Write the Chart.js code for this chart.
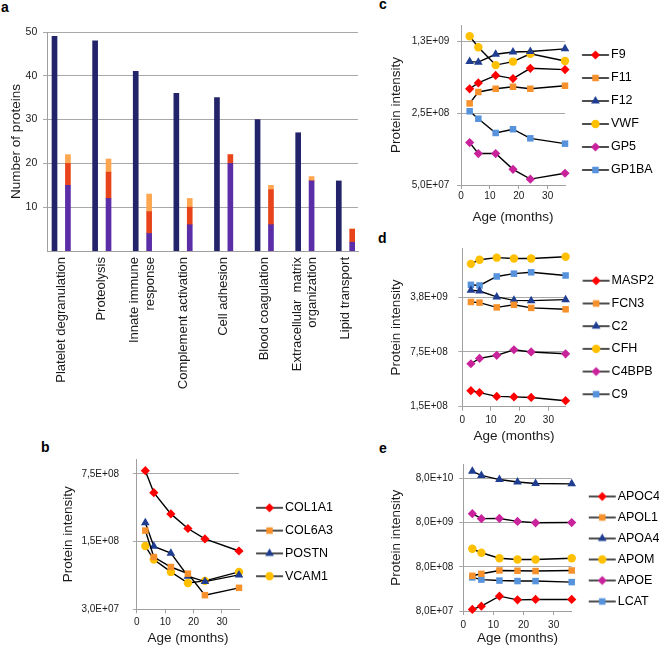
<!DOCTYPE html>
<html>
<head>
<meta charset="utf-8">
<script src="https://cdn.jsdelivr.net/npm/chart.js@4/dist/chart.umd.min.js"></script>
<style>
  html, body { margin:0; padding:0; background:#ffffff; }
  body { position:relative; width:659px; height:648px; overflow:hidden; font-family:'Liberation Sans', Arial, sans-serif; }
  canvas { position:absolute; }
  .panel-letter { position:absolute; font-weight:bold; font-size:14px; line-height:14px; color:#000; }
</style>
</head>
<body>
<div class="panel-letter" style="left:1px;top:0px">a</div>
<div class="panel-letter" style="left:41px;top:440px">b</div>
<div class="panel-letter" style="left:379px;top:-3px">c</div>
<div class="panel-letter" style="left:378px;top:231px">d</div>
<div class="panel-letter" style="left:379px;top:441px">e</div>
<canvas id="chartA"></canvas>
<canvas id="chartB"></canvas>
<canvas id="chartC"></canvas>
<canvas id="chartD"></canvas>
<canvas id="chartE"></canvas>
<script>
// ================= DATA =================
// Panel a
const categories = ['Platelet degranulation', 'Proteolysis', ['Innate immune', 'response'],
  'Complement activation', 'Cell adhesion', 'Blood coagulation',
  ['Extracellular  matrix', 'organization'], 'Lipid transport'];
const totalProteins  = [49, 48, 41, 36, 35, 30, 27, 16];
const purpleProteins = [15, 12, 4, 6, 20, 6, 16, 2];
const redProteins    = [5, 6, 5, 4, 2, 8, 0, 3];
const orangeProteins = [2, 3, 4, 2, 0, 1, 1, 0];
const countTicks = [10, 20, 30, 40, 50];

// Shared x values (months)
const ages = [3, 6, 12, 18, 24, 36];
const ageTicks = [0, 10, 20, 30];

// Panel b
const bLabels = ['COL1A1', 'COL6A3', 'POSTN', 'VCAM1'];
const COL1A1 = [8.1e8, 4.8e8, 2.9e8, 2.05e8, 1.6e8, 1.2e8];
const COL6A3 = [1.95e8, 1.04e8, 8.2e7, 7.0e7, 4.2e7, 5.0e7];
const POSTN  = [2.35e8, 1.34e8, 1.14e8, 6.6e7, 5.8e7, 6.8e7];
const VCAM1  = [1.35e8, 9.8e7, 7.3e7, 5.6e7, 5.9e7, 7.3e7];
const bTicks = [3e7, 1.5e8, 7.5e8];

// Panel c
const cLabels = ['F9', 'F11', 'F12', 'VWF', 'GP5', 'GP1BA'];
const F9    = [4.3e8, 4.9e8, 5.8e8, 5.4e8, 6.8e8, 6.6e8];
const F11   = [3.1e8, 4.0e8, 4.3e8, 4.5e8, 4.3e8, 4.6e8];
const F12   = [7.9e8, 7.8e8, 9.3e8, 9.8e8, 9.9e8, 1.05e9];
const VWF   = [1.39e9, 1.09e9, 7.3e8, 7.9e8, 9.4e8, 8.0e8];
const GP5   = [1.29e8, 1.01e8, 1.01e8, 7.1e7, 5.7e7, 6.5e7];
const GP1BA = [2.6e8, 2.2e8, 1.6e8, 1.74e8, 1.42e8, 1.26e8];
const cTicks = [5e7, 2.5e8, 1.25e9];

// Panel d
const dLabels = ['MASP2', 'FCN3', 'C2', 'CFH', 'C4BPB', 'C9'];
const MASP2 = [2.4e8, 2.27e8, 2.03e8, 2.0e8, 1.97e8, 1.79e8];
const FCN3  = [3.26e9, 3.2e9, 2.78e9, 3.0e9, 2.74e9, 2.63e9];
const C2    = [4.6e9, 4.5e9, 3.78e9, 3.42e9, 3.39e9, 3.49e9];
const CFH   = [1.0e10, 1.13e10, 1.2e10, 1.17e10, 1.17e10, 1.23e10];
const C4BPB = [5.3e8, 6.2e8, 6.8e8, 8.0e8, 7.5e8, 7.1e8];
const C9    = [5.4e9, 5.3e9, 6.9e9, 7.5e9, 7.8e9, 7.1e9];
const dTicks = [1.5e8, 7.5e8, 3.75e9];

// Panel e
const eLabels = ['APOC4', 'APOL1', 'APOA4', 'APOM', 'APOE', 'LCAT'];
const APOC4 = [8.7e7, 1.03e8, 1.73e8, 1.43e8, 1.46e8, 1.46e8];
const APOL1 = [5.0e8, 5.55e8, 6.6e8, 6.5e8, 6.4e8, 6.6e8];
const APOA4 = [1.15e11, 9.3e10, 7.5e10, 6.6e10, 6.1e10, 6.0e10];
const APOM  = [2.04e9, 1.66e9, 1.25e9, 1.17e9, 1.17e9, 1.25e9];
const APOE  = [1.27e10, 9.8e9, 9.9e9, 8.5e9, 7.9e9, 8.0e9];
const LCAT  = [4.6e8, 4.1e8, 3.9e8, 3.8e8, 3.8e8, 3.6e8];
const eTicks = [8e7, 8e8, 8e9, 8e10];

// ================= STYLE =================
const FONT = "'Liberation Sans', Arial, sans-serif";
Chart.defaults.font.family = FONT;
Chart.defaults.color = '#1a1a1a';
const TXT = '#1a1a1a';
const GRID = '#a8a8a8';
const AXIS = '#a0a0a0';

const MARKERS = {
  red:     { color: '#ff0000', shape: 'rectRot',  r: 4.6 },
  orange:  { color: '#f7912c', shape: 'rect',     r: 4.6 },
  navy:    { color: '#1f3e92', shape: 'triangle', r: 5.0 },
  gold:    { color: '#ffc000', shape: 'circle',   r: 4.2 },
  magenta: { color: '#c9239c', shape: 'rectRot',  r: 4.6 },
  sky:     { color: '#5693dc', shape: 'rect',     r: 4.6 }
};

function drawMarker(g, m, cx, cy) {
  const r = m.r;
  g.fillStyle = m.color;
  g.beginPath();
  if (m.shape === 'circle') {
    g.arc(cx, cy, r, 0, Math.PI * 2);
  } else if (m.shape === 'rectRot') {
    g.moveTo(cx, cy - r); g.lineTo(cx + r, cy); g.lineTo(cx, cy + r); g.lineTo(cx - r, cy); g.closePath();
  } else if (m.shape === 'rect') {
    const s = r * Math.SQRT1_2; g.rect(cx - s, cy - s, 2 * s, 2 * s);
  } else {
    for (let k = 0; k < 3; k++) {
      const ang = k * 2 * Math.PI / 3;
      const px = cx + Math.sin(ang) * r, py = cy - Math.cos(ang) * r;
      if (k) g.lineTo(px, py); else g.moveTo(px, py);
    }
    g.closePath();
  }
  g.fill();
}

function sci(v) {
  const e = Math.floor(Math.log10(v) + 1e-9);
  const m = v / Math.pow(10, e);
  return m.toFixed(1).replace('.', ',') + 'E+' + String(e).padStart(2, '0');
}

// legend sample: line + marker, positions relative to plot right edge
const LEG_LINE_START = 17, LEG_LINE_END = 44, LEG_TEXT = 46, LEG_FONT = 12.5;
function legendImage(m, pad, boxW) {
  const c = pad + boxW / 2;
  const W = Math.ceil(2 * Math.max(LEG_LINE_END - c, c - LEG_LINE_START)) + 4;
  const H = 14;
  const cv = document.createElement('canvas');
  cv.width = W; cv.height = H;
  const g = cv.getContext('2d');
  const ox = c - W / 2;
  g.strokeStyle = '#000'; g.lineWidth = 1.4;
  g.beginPath(); g.moveTo(LEG_LINE_START - ox, H / 2); g.lineTo(LEG_LINE_END - ox, H / 2); g.stroke();
  drawMarker(g, m, (LEG_LINE_START + LEG_LINE_END) / 2 - ox, H / 2);
  return cv;
}

function placeCanvas(cv, left, top, w, h) {
  cv.width = w; cv.height = h;
  cv.style.left = left + 'px'; cv.style.top = top + 'px';
  cv.style.width = w + 'px'; cv.style.height = h + 'px';
}

// ================= PANEL A (bars) =================
(function () {
  const cv = document.getElementById('chartA');
  placeCanvas(cv, 0, 20, 370, 400);
  const SUB_OFFSET = 0.165;       // total bar vs breakdown bar, in category units
  const LINE_SHIFT = 0.192;       // half a text line for two-line labels
  const pts = (arr, off) => arr.map((v, i) => ({ x: i + off, y: v }));
  new Chart(cv, {
    type: 'bar',
    data: {
      datasets: [
        { label: 'All', data: pts(totalProteins, -SUB_OFFSET), backgroundColor: '#23236b', stack: 'all' },
        { label: 'Subset 1', data: pts(purpleProteins, SUB_OFFSET), backgroundColor: '#5b2da6', stack: 'sub' },
        { label: 'Subset 2', data: pts(redProteins, SUB_OFFSET), backgroundColor: '#e8441b', stack: 'sub' },
        { label: 'Subset 3', data: pts(orangeProteins, SUB_OFFSET), backgroundColor: '#ffa650', stack: 'sub' }
      ]
    },
    options: {
      responsive: false, animation: false, devicePixelRatio: 1, events: [],
      datasets: { bar: { grouped: false, barThickness: 5, borderWidth: 0 } },
      layout: { padding: { left: 0, top: 9, right: 12, bottom: 0 } },
      plugins: { legend: { display: false }, tooltip: { enabled: false } },
      scales: {
        x: {
          type: 'linear', min: -0.35, max: 7.308, offset: false,
          afterBuildTicks: s => { s.ticks = categories.map((c, i) => ({ value: Array.isArray(c) ? i - LINE_SHIFT : i })); },
          afterFit: s => { s.height = 169; },
          grid: { display: false, drawTicks: false, offset: false },
          border: { display: true, color: AXIS, width: 1 },
          ticks: { autoSkip: false, minRotation: 90, maxRotation: 90, padding: 6, font: { size: 13 }, color: TXT,
                   callback: v => categories[Math.round(v)] }
        },
        y: {
          stacked: true, min: 0, max: 50,
          afterBuildTicks: s => { s.ticks = countTicks.map(v => ({ value: v })); },
          afterFit: s => { s.width = 47; },
          grid: { color: GRID, tickLength: 4 },
          border: { display: true, color: AXIS, width: 1 },
          ticks: { font: { size: 10.5 }, color: TXT, padding: 5.7 },
          title: { display: true, text: 'Number of proteins', color: TXT, font: { size: 13.5 }, padding: { top: 8.4, bottom: 0 } }
        }
      }
    }
  });
})();

// ================= LINE PANELS =================
function linePanel(id, geo, labels, values, styles, yTicks, yMin, yMax) {
  const cv = document.getElementById(id);
  const a = geo.area;
  const W = Math.round(a.r + geo.legW - geo.left), H = geo.bottom - geo.top;
  placeCanvas(cv, geo.left, geo.top, W, H);
  const legW = W - (a.r - geo.left);
  const boxW = LEG_TEXT - geo.legPad - LEG_FONT / 2;
  const imgs = styles.map(s => legendImage(MARKERS[s], geo.legPad, boxW));
  return new Chart(cv, {
    type: 'line',
    data: {
      datasets: labels.map((lab, i) => {
        const m = MARKERS[styles[i]];
        return {
          label: lab,
          data: ages.map((x, j) => ({ x: x, y: values[i][j] })),
          borderColor: '#000', borderWidth: 1.4, fill: false, tension: 0, clip: false,
          pointStyle: m.shape, pointRadius: m.r, pointHoverRadius: m.r,
          pointBackgroundColor: m.color, pointBorderColor: m.color, pointBorderWidth: 0
        };
      })
    },
    options: {
      responsive: false, animation: false, devicePixelRatio: 1, events: [],
      layout: { padding: { left: 0, top: 0, bottom: 0, right: 0 } },
      plugins: {
        tooltip: { enabled: false },
        title: { display: true, text: '', fullSize: false, padding: { top: a.t - geo.top, bottom: 0 },
                 font: { size: 10, lineHeight: '0px' } },
        legend: {
          display: true, position: 'right', align: 'center', fullSize: true, maxWidth: legW,
          labels: {
            usePointStyle: true, pointStyleWidth: boxW, padding: geo.legPad, color: TXT, font: { size: LEG_FONT },
            generateLabels: chart => chart.data.datasets.map((ds, i) => ({
              text: ds.label, pointStyle: imgs[i], fillStyle: '#000', strokeStyle: '#000',
              lineWidth: 0, hidden: false, datasetIndex: i
            }))
          }
        }
      },
      scales: {
        x: {
          type: 'linear', min: 0, max: 36,
          afterBuildTicks: s => { s.ticks = ageTicks.map(v => ({ value: v })); },
          afterFit: s => { s.height = geo.bottom - a.b; },
          grid: { drawOnChartArea: false, drawTicks: true, tickLength: 4, color: AXIS },
          border: { display: true, color: AXIS, width: 1 },
          ticks: { font: { size: 10 }, color: TXT, padding: geo.xTickCenter - a.b - 4 - 6, maxRotation: 0, minRotation: 0 },
          title: { display: true, text: 'Age (months)', color: TXT, font: { size: 13.5 },
                   padding: { top: 0, bottom: geo.bottom - geo.xTitleCenter - 8.1 } }
        },
        y: {
          type: 'logarithmic', min: yMin, max: yMax,
          afterBuildTicks: s => { s.ticks = yTicks.map(v => ({ value: v })); },
          afterFit: s => { s.width = a.l - geo.left; },
          grid: { color: GRID, drawTicks: true, tickLength: 4 },
          border: { display: true, color: AXIS, width: 1 },
          ticks: { font: { size: 10 }, color: TXT, padding: a.l - geo.yTickRight - 4, callback: v => sci(v) },
          title: { display: true, text: 'Protein intensity', color: TXT, font: { size: 13.5 },
                   padding: { top: geo.yTitleX - geo.left - 8.1, bottom: 0 } }
        }
      }
    }
  });
}

linePanel('chartB',
  { left: -100, top: 436, bottom: 648, legW: 99, area: { l: 136.8, r: 239, t: 459, b: 609.3 },
    legPad: 10.3, yTitleX: 68.3, yTickRight: 119, xTickCenter: 622.7, xTitleCenter: 638.3 },
  bLabels, [COL1A1, COL6A3, POSTN, VCAM1], ['red', 'orange', 'navy', 'gold'], bTicks, 3e7, 1.07e9);

linePanel('chartC',
  { left: 200, top: -3, bottom: 228, legW: 93, area: { l: 461, r: 565, t: 25, b: 185 },
    legPad: 10.5, yTitleX: 396.7, yTickRight: 449.3, xTickCenter: 196.7, xTitleCenter: 217 },
  cLabels, [F9, F11, F12, VWF, GP5, GP1BA], ['red', 'orange', 'navy', 'gold', 'magenta', 'sky'], cTicks, 5e7, 1.79e9);

linePanel('chartD',
  { left: 200, top: 230, bottom: 445, legW: 93, area: { l: 462.3, r: 565.6, t: 248.3, b: 406.7 },
    legPad: 10.2, yTitleX: 396.7, yTickRight: 447.7, xTickCenter: 420, xTitleCenter: 436 },
  dLabels, [MASP2, FCN3, C2, CFH, C4BPB, C9], ['red', 'orange', 'navy', 'gold', 'magenta', 'sky'], dTicks, 1.5e8, 1.58e10);

linePanel('chartE',
  { left: 200, top: 450, bottom: 648, legW: 93, area: { l: 463.3, r: 571.7, t: 464.3, b: 611 },
    legPad: 8.5, yTitleX: 396.7, yTickRight: 453.3, xTickCenter: 625, xTitleCenter: 638.3 },
  eLabels, [APOC4, APOL1, APOA4, APOM, APOE, LCAT], ['red', 'orange', 'navy', 'gold', 'magenta', 'sky'], eTicks, 8e7, 1.66e11);
</script>
</body>
</html>
